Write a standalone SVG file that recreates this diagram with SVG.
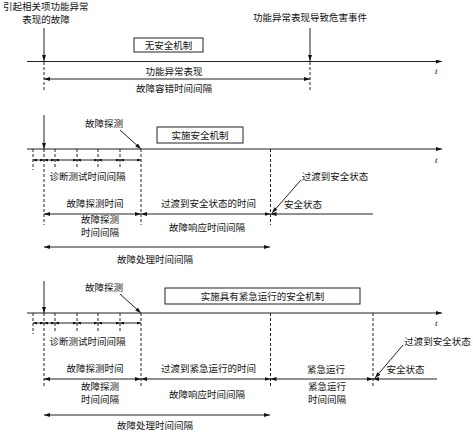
<svg xmlns="http://www.w3.org/2000/svg" width="473" height="434" viewBox="0 0 473 434">
<defs>
<marker id="a" viewBox="0 0 6 4" refX="6" refY="2" markerWidth="6" markerHeight="4" orient="auto-start-reverse" markerUnits="userSpaceOnUse"><path d="M0,0 L6,2 L0,4z" fill="#111"/></marker>
<marker id="s" viewBox="0 0 4 3" refX="4" refY="1.5" markerWidth="4" markerHeight="3" orient="auto-start-reverse" markerUnits="userSpaceOnUse"><path d="M0,0 L4,1.5 L0,3z" fill="#111"/></marker>
</defs>
<style>
text{font-family:"Noto Sans CJK SC","Liberation Sans",sans-serif;font-size:9.5px;fill:#111}
.m{text-anchor:middle}
.t{font-family:"Liberation Serif",serif;font-style:italic;font-size:9px}
line{stroke:#222;stroke-width:1;fill:none}
.d{stroke-dasharray:3,2}
.e{marker-end:url(#a)}
.b{marker-start:url(#a);marker-end:url(#a)}
.bs{marker-start:url(#s);marker-end:url(#s)}
.box{fill:#fff;stroke:#222;stroke-width:1}
</style>
<rect width="473" height="434" fill="#fff"/>

<g id="sec1">
<g id="n-fault"><text x="3" y="10">引起相关项功能异常</text><text class="m" x="46" y="22.5">表现的故障</text></g>
<g id="n-hazard"><text class="m" x="310" y="20.5">功能异常表现导致危害事件</text></g>
<g id="n-box1"><rect class="box" x="134" y="38" width="69" height="14"/><text class="m" x="168.5" y="48.5">无安全机制</text></g>
<g id="n-l1"><text class="m" x="174" y="74.5">功能异常表现</text><text class="m" x="174" y="91.5">故障容错时间间隔</text></g>
<text class="t" x="435" y="74">t</text>
</g>

<g id="sec2">
<g id="n-det2"><text x="85" y="126.5">故障探测</text></g>
<g id="n-box2"><rect class="box" x="157" y="127" width="86" height="16"/><text class="m" x="200" y="138.5">实施安全机制</text></g>
<g id="n-diag2"><text class="m" x="87.5" y="179.5">诊断测试时间间隔</text></g>
<g id="n-fdt2"><text class="m" x="95" y="206.5">故障探测时间</text><text class="m" x="100" y="223">故障探测</text><text class="m" x="100" y="236">时间间隔</text></g>
<g id="n-trans2"><text class="m" x="208.5" y="206.5">过渡到安全状态的时间</text><text class="m" x="207" y="230.5">故障响应时间间隔</text></g>
<g id="n-safe2"><text class="m" x="303" y="207.5">安全状态</text><text class="m" x="335" y="179.5">过渡到安全状态</text></g>
<g id="n-fhti2"><text class="m" x="155" y="262.5">故障处理时间间隔</text></g>
<text class="t" x="435" y="163">t</text>
</g>

<g id="sec3">
<g id="n-det3"><text x="85" y="290.5">故障探测</text></g>
<g id="n-box3"><rect class="box" x="165" y="288" width="195" height="16"/><text class="m" x="262.5" y="299.5">实施具有紧急运行的安全机制</text></g>
<g id="n-diag3"><text class="m" x="87.5" y="345">诊断测试时间间隔</text></g>
<g id="n-fdt3"><text class="m" x="95" y="372">故障探测时间</text><text class="m" x="100" y="389.5">故障探测</text><text class="m" x="100" y="402.5">时间间隔</text></g>
<g id="n-trans3"><text class="m" x="208.5" y="372">过渡到紧急运行的时间</text><text class="m" x="207" y="397.5">故障响应时间间隔</text></g>
<g id="n-emerg3"><text class="m" x="326" y="372.5">紧急运行</text><text class="m" x="327" y="389.5">紧急运行</text><text class="m" x="327" y="402.5">时间间隔</text></g>
<g id="n-safe3"><text class="m" x="405.5" y="372.5">安全状态</text><text class="m" x="437.5" y="344.5">过渡到安全状态</text></g>
<g id="n-fhti3"><text class="m" x="155" y="429">故障处理时间间隔</text></g>
<text class="t" x="435" y="326">t</text>
</g>

<g id="connectors">
<line x1="27" y1="61.5" x2="442" y2="61.5" class="e"/>
<line x1="44" y1="28" x2="44" y2="61" class="e"/>
<line x1="44" y1="62" x2="44" y2="92" class="d"/>
<line x1="310" y1="28" x2="310" y2="61" class="e"/>
<line x1="310" y1="62" x2="310" y2="92" class="d"/>
<line x1="44" y1="79" x2="310" y2="79" class="b"/>

<line x1="27" y1="149" x2="442" y2="149" class="e"/>
<line x1="44" y1="115" x2="44" y2="149" class="e"/>
<line x1="120" y1="130" x2="141" y2="149" class="e"/>
<line x1="33" y1="149" x2="33" y2="170" class="d"/>
<line x1="55" y1="149" x2="55" y2="168" class="d"/>
<line x1="77" y1="149" x2="77" y2="168" class="d"/>
<line x1="98" y1="149" x2="98" y2="168" class="d"/>
<line x1="120" y1="149" x2="120" y2="168" class="d"/>
<line x1="44" y1="149" x2="44" y2="225" class="d"/>
<line x1="141" y1="149" x2="141" y2="225" class="d"/>
<line x1="270.5" y1="149" x2="270.5" y2="225" class="d"/>
<line x1="33" y1="160" x2="44" y2="160" class="bs"/>
<line x1="44" y1="160" x2="55" y2="160" class="bs"/>
<line x1="55" y1="160" x2="77" y2="160" class="bs"/>
<line x1="77" y1="160" x2="98" y2="160" class="bs"/>
<line x1="98" y1="160" x2="120" y2="160" class="bs"/>
<line x1="120" y1="160" x2="141" y2="160" class="bs"/>
<line x1="44" y1="214" x2="141" y2="214" class="b"/>
<line x1="141" y1="214" x2="270.5" y2="214" class="b"/>
<line x1="373" y1="214" x2="270.5" y2="214" class="e"/>
<line x1="301" y1="180" x2="272" y2="213" class="e"/>
<line x1="44" y1="247" x2="270" y2="247" class="b"/>

<line x1="27" y1="313" x2="442" y2="313" class="e"/>
<line x1="44" y1="281" x2="44" y2="313" class="e"/>
<line x1="120" y1="294" x2="141" y2="313" class="e"/>
<line x1="33" y1="313" x2="33" y2="334" class="d"/>
<line x1="55" y1="313" x2="55" y2="332" class="d"/>
<line x1="77" y1="313" x2="77" y2="332" class="d"/>
<line x1="98" y1="313" x2="98" y2="332" class="d"/>
<line x1="120" y1="313" x2="120" y2="332" class="d"/>
<line x1="44" y1="313" x2="44" y2="388" class="d"/>
<line x1="141" y1="313" x2="141" y2="388" class="d"/>
<line x1="270.5" y1="313" x2="270.5" y2="388" class="d"/>
<line x1="373" y1="313" x2="373" y2="388" class="d"/>
<line x1="33" y1="323" x2="44" y2="323" class="bs"/>
<line x1="44" y1="323" x2="55" y2="323" class="bs"/>
<line x1="55" y1="323" x2="77" y2="323" class="bs"/>
<line x1="77" y1="323" x2="98" y2="323" class="bs"/>
<line x1="98" y1="323" x2="120" y2="323" class="bs"/>
<line x1="120" y1="323" x2="141" y2="323" class="bs"/>
<line x1="44" y1="379" x2="141" y2="379" class="b"/>
<line x1="141" y1="379" x2="270.5" y2="379" class="b"/>
<line x1="270.5" y1="379" x2="373" y2="379" class="b"/>
<line x1="437" y1="379" x2="373" y2="379" class="e"/>
<line x1="403" y1="345" x2="375" y2="378" class="e"/>
<line x1="44" y1="415" x2="270" y2="415" class="b"/>
</g>
</svg>
